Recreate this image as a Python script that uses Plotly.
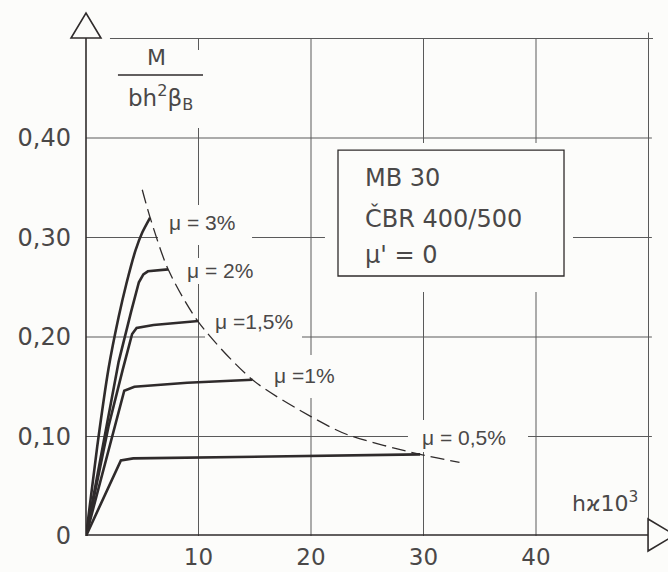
import plotly.graph_objects as go

# ---------------- data ----------------
x_tick_vals = [10, 20, 30, 40]
x_tick_text = ["10", "20", "30", "40"]
y_tick_vals = [0, 0.10, 0.20, 0.30, 0.40]
y_tick_text = ["0", "0,10", "0,20", "0,30", "0,40"]

mu3_x = [0, 1.0, 2.0, 2.9, 3.6, 4.4, 5.0, 5.7]
mu3_y = [0, 0.090, 0.168, 0.220, 0.254, 0.287, 0.305, 0.320]
mu2_x = [0, 2.9, 4.0, 4.7, 5.1, 5.5, 7.3]
mu2_y = [0, 0.175, 0.225, 0.255, 0.263, 0.266, 0.268]
mu15_x = [0, 2.0, 3.26, 4.1, 4.5, 6.0, 10.0]
mu15_y = [0, 0.110, 0.167, 0.203, 0.209, 0.212, 0.216]
mu1_x = [0, 3.4, 4.3, 9.0, 14.8]
mu1_y = [0, 0.146, 0.150, 0.154, 0.157]
mu05_x = [0, 3.1, 4.2, 15.0, 29.7]
mu05_y = [0, 0.076, 0.078, 0.080, 0.082]
limit_x = [5.0, 5.7, 7.3, 10.0, 14.8, 20.0, 23.2, 29.7, 33.2]
limit_y = [0.348, 0.320, 0.268, 0.215, 0.157, 0.120, 0.102, 0.082, 0.074]

curve_labels = ["μ = 3%", "μ = 2%", "μ =1,5%", "μ =1%", "μ = 0,5%"]
box_lines = ["MB 30", "ČBR 400/500", "μ' = 0"]

# ---------------- style ----------------
BG = "#fcfcfa"
INK = "#2f2b2b"
GRID = "#5a5a5a"
TXT = "#4a4848"
XMAX = 582 / 11.25
YMAX = 536 / 995.0

def xp(v):
    return v / XMAX

def yp(v):
    return v / YMAX

fig = go.Figure()

curves = [(mu3_x, mu3_y, "spline"), (mu2_x, mu2_y, "linear"), (mu15_x, mu15_y, "linear"),
          (mu1_x, mu1_y, "linear"), (mu05_x, mu05_y, "linear")]
for xs, ys, shp in curves:
    fig.add_trace(go.Scatter(x=xs, y=ys, mode="lines",
                             line=dict(color=INK, width=2.6, shape=shp, smoothing=0.6),
                             hoverinfo="skip", showlegend=False))

fig.add_trace(go.Scatter(x=limit_x, y=limit_y, mode="lines",
                         line=dict(color=INK, width=1.3, dash="14px,6px", shape="spline", smoothing=0.8),
                         hoverinfo="skip", showlegend=False))

shapes = []
# grid lines
for gx in x_tick_vals:
    shapes.append(dict(type="line", xref="x", yref="y", x0=gx, x1=gx, y0=0, y1=0.5,
                       line=dict(color=GRID, width=1), layer="below"))
shapes.append(dict(type="line", xref="x", yref="y", x0=50, x1=50, y0=0, y1=0.506,
                   line=dict(color=GRID, width=1), layer="below"))
for gy in y_tick_vals[1:]:
    shapes.append(dict(type="line", xref="x", yref="y", x0=0, x1=50.3, y0=gy, y1=gy,
                       line=dict(color=GRID, width=1), layer="below"))
shapes.append(dict(type="line", xref="x", yref="y", x0=2.13, x1=50.4, y0=0.5, y1=0.5,
                   line=dict(color=GRID, width=1), layer="below"))

# gaps in the grid around lettering
covers = [
    (2.31, 11.02, 0.410, 0.4884),   # axis title
    (6.4, 14.76, 0.2925, 0.3327),   # 3 %
    (8.18, 14.76, 0.2533, 0.2794),  # 2 %
    (10.58, 19.2, 0.197, 0.2291),   # 1,5 %
    (15.64, 23.29, 0.1387, 0.1819), # 1 %
    (28.62, 39.29, 0.0844, 0.1166), # 0,5 %
    (21.24, 43.29, 0.2452, 0.395),  # box
]
for x0, x1, y0, y1 in covers:
    shapes.append(dict(type="rect", xref="x", yref="y", x0=x0, x1=x1, y0=y0, y1=y1,
                       line=dict(width=0), fillcolor=BG, layer="between"))

# box outline
shapes.append(dict(type="rect", xref="x", yref="y", x0=22.4, x1=42.49, y0=0.2613, y1=0.3879,
                   line=dict(color=INK, width=1.3), fillcolor="rgba(0,0,0,0)", layer="above"))

# fraction bar of the axis title
shapes.append(dict(type="line", xref="x", yref="y", x0=2.84, x1=10.4, y0=0.4633, y1=0.4633,
                   line=dict(color=INK, width=1.3)))

# axis lines
shapes.append(dict(type="line", xref="paper", yref="paper", x0=0, x1=0, y0=0, y1=yp(0.5005),
                   line=dict(color=INK, width=1.6)))
shapes.append(dict(type="line", xref="paper", yref="paper", x0=0, x1=xp(49.96), y0=yp(0.001), y1=yp(0.001),
                   line=dict(color=INK, width=1.6)))

# arrow heads (open triangles)
ya = "M {a},{b} L {c},{d} L {e},{f} Z".format(
    a=xp(-1.33), b=yp(0.5005), c=xp(1.33), d=yp(0.5005), e=xp(0), f=yp(0.5256))
shapes.append(dict(type="path", xref="paper", yref="paper", path=ya,
                   line=dict(color=INK, width=1.6), fillcolor=BG))
xa = "M {a},{b} L {c},{d} L {e},{f} Z".format(
    a=xp(49.96), b=yp(0.0171), c=xp(49.96), d=yp(-0.0151), e=xp(52.36), f=yp(0.001))
shapes.append(dict(type="path", xref="paper", yref="paper", path=xa,
                   line=dict(color=INK, width=1.6), fillcolor=BG))

annotations = []
lab_pos = [(7.2, 0.3146), (8.8, 0.2673), (11.29, 0.2151), (16.53, 0.1618), (29.69, 0.0985)]
for txt, (lx, ly) in zip(curve_labels, lab_pos):
    annotations.append(dict(x=lx, y=ly, xref="x", yref="y", text=txt, showarrow=False,
                            xanchor="left", yanchor="middle",
                            font=dict(family="Liberation Sans", size=21, color=TXT)))

for txt, ly in zip(box_lines, [0.3598, 0.3196, 0.2824]):
    annotations.append(dict(x=24.62, y=ly, xref="x", yref="y", text=txt, showarrow=False,
                            xanchor="left", yanchor="middle",
                            font=dict(family="DejaVu Sans", size=24, color=TXT)))

annotations.append(dict(x=6.31, y=0.4814, xref="x", yref="y", text="M", showarrow=False,
                        xanchor="center", yanchor="middle",
                        font=dict(family="DejaVu Sans", size=22, color=TXT)))
annotations.append(dict(x=6.58, y=0.4405, xref="x", yref="y",
                        text="bh<sup>2</sup>β<sub>B</sub>", showarrow=False,
                        xanchor="center", yanchor="middle",
                        font=dict(family="DejaVu Sans", size=23, color=TXT)))
annotations.append(dict(x=46.13, y=0.0342, xref="x", yref="y",
                        text="hϰ10<sup>3</sup>", showarrow=False,
                        xanchor="center", yanchor="middle",
                        font=dict(family="DejaVu Sans", size=22, color=TXT)))

fig.update_layout(
    width=668, height=572,
    margin=dict(l=86, r=0, t=0, b=36),
    paper_bgcolor=BG, plot_bgcolor=BG,
    shapes=shapes, annotations=annotations,
    showlegend=False,
    xaxis=dict(range=[0, XMAX], tickvals=x_tick_vals, ticktext=x_tick_text,
               showgrid=False, zeroline=False, showline=False, ticks="",
               ticklabelstandoff=5,
               tickfont=dict(family="DejaVu Sans", size=23, color=TXT), fixedrange=True),
    yaxis=dict(range=[0, YMAX], tickvals=y_tick_vals, ticktext=y_tick_text,
               showgrid=False, zeroline=False, showline=False, ticks="",
               ticklabelstandoff=14,
               tickfont=dict(family="DejaVu Sans", size=24, color=TXT), fixedrange=True),
)

fig.write_html("out.html", config={"displayModeBar": False},
               post_script="document.body.style.margin='0';document.body.style.overflow='hidden';")
